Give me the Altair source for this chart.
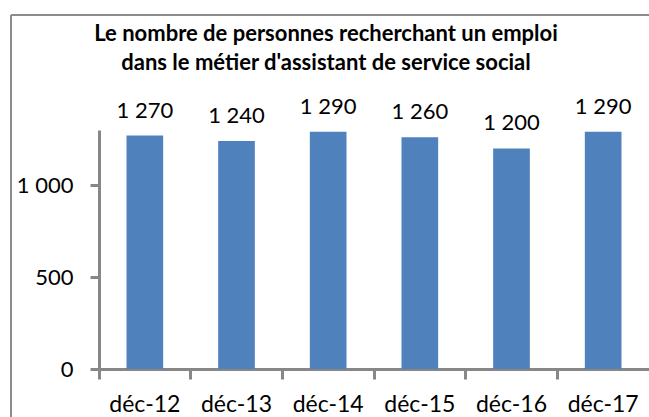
import altair as alt
import pandas as pd

categories = ["déc-12", "déc-13", "déc-14", "déc-15", "déc-16", "déc-17"]
values = [1270, 1240, 1290, 1260, 1200, 1290]
title_line1 = "Le nombre de personnes  recherchant un emploi"
title_line2 = "dans le métier d'assistant de service social"
y_ticks = [0, 500, 1000]

df = pd.DataFrame({"cat": categories, "val": values})

FONT = "Lato"
AXIS_GRAY = "#878787"

x_enc = alt.X("cat:N", sort=categories, title=None,
              scale=alt.Scale(paddingInner=0, paddingOuter=0),
              axis=alt.Axis(labelAngle=0, labelFont=FONT, labelFontSize=23,
                            labelColor="#000000", labelPadding=14,
                            bandPosition=0,
                            tickSize=10, tickWidth=3, tickColor=AXIS_GRAY,
                            domainColor=AXIS_GRAY, domainWidth=3))
y_enc = alt.Y("val:Q", title=None,
              scale=alt.Scale(domain=[0, 1300], nice=False),
              axis=alt.Axis(values=y_ticks, grid=False, labelFont=FONT,
                            labelFontSize=22, labelColor="#000000",
                            labelExpr="replace(format(datum.value, ','), ',', ' ')",
                            labelPadding=17, tickSize=9, tickWidth=3,
                            tickColor=AXIS_GRAY, domainColor=AXIS_GRAY,
                            domainWidth=3))

base = alt.Chart(df)
bars = base.mark_bar(color="#4F81BD", width=alt.RelativeBandSize(0.4)).encode(x=x_enc, y=y_enc)
labels = base.transform_calculate(
    lab="replace(format(datum.val, ','), ',', ' ')"
).mark_text(font=FONT, fontSize=22, color="#000000", baseline="alphabetic",
            dy=-18).encode(x=alt.X("cat:N", sort=categories), y="val:Q", text="lab:N")

one = alt.Chart(pd.DataFrame({"a": [0]}))
border_top = one.mark_rule(color="#8c8c8c", strokeWidth=2).encode(
    x=alt.value(-88), x2=alt.value(560), y=alt.value(-115))
border_left = one.mark_rule(color="#8c8c8c", strokeWidth=2).encode(
    x=alt.value(-88), y=alt.value(-115), y2=alt.value(300))
t1 = one.mark_text(font=FONT, fontSize=22, fontWeight="bold", color="#000000",
                   align="center", baseline="alphabetic").encode(
    x=alt.value(227), y=alt.value(-89), text=alt.value(title_line1))
t2 = one.mark_text(font=FONT, fontSize=22, fontWeight="bold", color="#000000",
                   align="center", baseline="alphabetic").encode(
    x=alt.value(227), y=alt.value(-60), text=alt.value(title_line2))

chart = alt.layer(bars, labels, border_top, border_left, t1, t2).properties(
    width=550, height=239,
    autosize=alt.AutoSizeParams(type="none"),
    padding={"left": 99, "top": 130, "right": 0, "bottom": 48},
).configure_view(stroke=None)

chart.save("out.html", embed_options={"renderer": "svg", "actions": False})
